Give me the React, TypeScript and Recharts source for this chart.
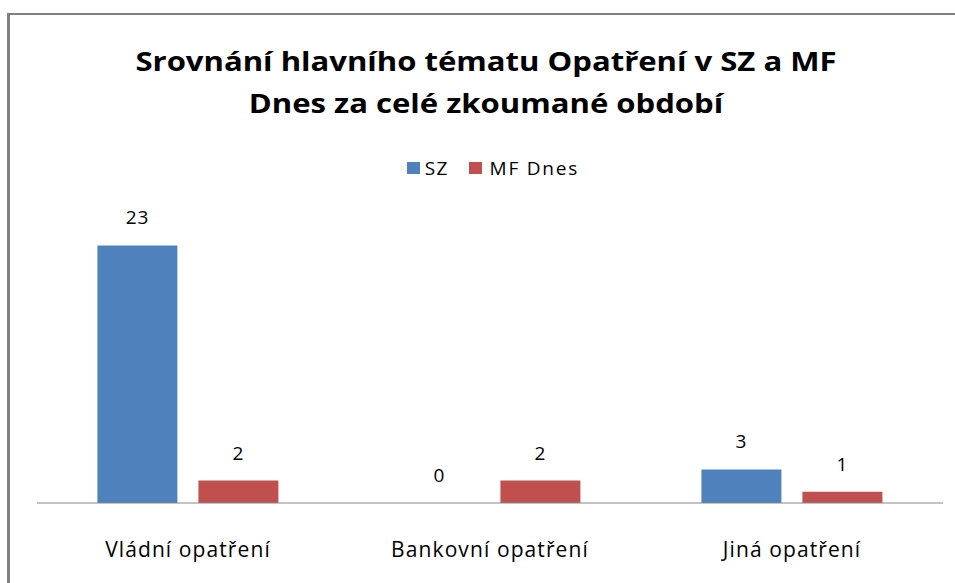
import { Bar, BarChart, LabelList, XAxis, YAxis } from "recharts";

const categories = ["Vládní opatření", "Bankovní opatření", "Jiná opatření"];
const szValues = [23, 0, 3];
const mfDnesValues = [2, 2, 1];
const seriesNames = ["SZ", "MF Dnes"];

const BLUE = "#4F81BD";
const RED = "#C0504D";
const FONT = "'Open Sans', 'Liberation Sans', sans-serif";

const data = categories.map((name, i) => ({
  name,
  sz: szValues[i],
  mf: mfDnesValues[i],
}));

// a zero bar gets a hair of height so its "0" label is still drawn
const keepZero = (v: number) => (v === 0 ? 0.01 : 0);

function CategoryTick(props: any) {
  const { x, y, payload } = props;
  return (
    <text
      x={x}
      y={y + 52}
      textAnchor="middle"
      fill="#000"
      fontSize={21}
      fontFamily={FONT}
      letterSpacing={1.1}
    >
      {payload.value}
    </text>
  );
}

function ValueLabel(props: any) {
  const { x, y, width, value } = props;
  return (
    <text
      x={Number(x) + Number(width) / 2}
      y={Number(y) - 21}
      textAnchor="middle"
      fill="#000"
      fontSize={19}
      fontFamily={FONT}
      letterSpacing={0.8}
    >
      {value}
    </text>
  );
}

export default function App() {
  return (
    <div
      style={{
        position: "absolute",
        left: 0,
        top: 0,
        width: 955,
        height: 583,
        overflow: "hidden",
        background: "#fff",
        fontFamily: FONT,
      }}
    >
      {/* chart frame, right and bottom edges fall outside the picture */}
      <div
        style={{
          position: "absolute",
          left: 7,
          top: 13,
          width: 948,
          height: 570,
          boxSizing: "border-box",
          borderLeft: "3px solid #808080",
          borderTop: "2px solid #808080",
        }}
      />
      <div
        style={{
          position: "absolute",
          left: 0,
          top: 40,
          width: 972,
          textAlign: "center",
          fontWeight: 700,
          fontSize: 27,
          lineHeight: "42px",
          color: "#000",
          transform: "scaleX(1.15)",
        }}
      >
        Srovnání hlavního tématu Opatření v SZ a MF
        <br />
        Dnes za celé zkoumané období
      </div>
      <div
        style={{
          position: "absolute",
          left: 0,
          top: 155,
          width: 986,
          display: "flex",
          justifyContent: "center",
          alignItems: "center",
          fontSize: 19,
          lineHeight: "26px",
          color: "#000",
        }}
      >
        <span style={{ width: 13, height: 12, background: BLUE, marginRight: 5 }} />
        <span style={{ marginRight: 20, letterSpacing: 1.2 }}>{seriesNames[0]}</span>
        <span style={{ width: 13, height: 12, background: RED, marginRight: 8 }} />
        <span style={{ letterSpacing: 1.8 }}>{seriesNames[1]}</span>
      </div>
      <div style={{ position: "absolute", left: 0, top: 0 }}>
        <BarChart
          width={955}
          height={583}
          data={data}
          margin={{ top: 223, right: 12, left: 37, bottom: 0 }}
          barCategoryGap="20%"
          barGap={21}
        >
          <XAxis
            dataKey="name"
            height={80}
            tickLine={false}
            tickSize={0}
            axisLine={{ stroke: "#868686", strokeWidth: 1 }}
            tick={<CategoryTick />}
            interval={0}
          />
          <YAxis hide domain={[0, 25]} />
          <Bar
            dataKey="sz"
            name={seriesNames[0]}
            fill={BLUE}
            minPointSize={keepZero}
            isAnimationActive={false}
          >
            <LabelList dataKey="sz" content={<ValueLabel />} />
          </Bar>
          <Bar
            dataKey="mf"
            name={seriesNames[1]}
            fill={RED}
            minPointSize={keepZero}
            isAnimationActive={false}
          >
            <LabelList dataKey="mf" content={<ValueLabel />} />
          </Bar>
        </BarChart>
      </div>
    </div>
  );
}
